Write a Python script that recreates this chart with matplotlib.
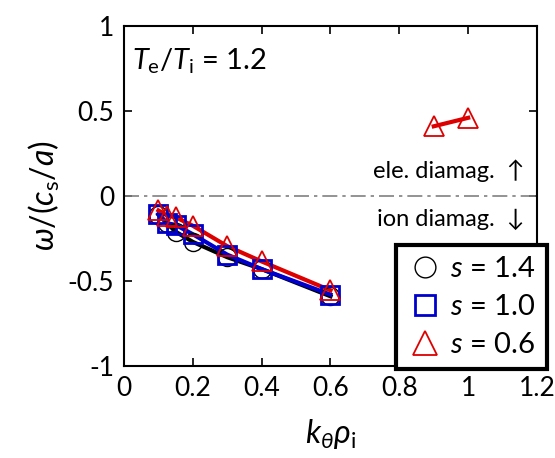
import matplotlib
matplotlib.use('Agg')
import matplotlib.pyplot as plt

plt.rcParams['font.family'] = ['Lato', 'DejaVu Sans']
plt.rcParams['mathtext.fontset'] = 'custom'
plt.rcParams['mathtext.rm'] = 'Lato'
plt.rcParams['mathtext.it'] = 'Lato:italic'

# s = 1.4
x_s14 = [0.1, 0.125, 0.15, 0.2, 0.3, 0.4, 0.6]
y_s14 = [-0.11, -0.16, -0.21, -0.27, -0.36, -0.43, -0.59]
# s = 1.0
x_s10 = [0.1, 0.125, 0.15, 0.2, 0.3, 0.4, 0.6]
y_s10 = [-0.105, -0.16, -0.17, -0.225, -0.345, -0.43, -0.58]
# s = 0.6
x_s06 = [0.1, 0.125, 0.15, 0.2, 0.3, 0.4, 0.6]
y_s06 = [-0.085, -0.115, -0.125, -0.175, -0.295, -0.385, -0.555]
x_s06b = [0.9, 1.0]
y_s06b = [0.41, 0.46]

xticks = [0, 0.2, 0.4, 0.6, 0.8, 1, 1.2]
xticklabels = ['0', '0.2', '0.4', '0.6', '0.8', '1', '1.2']
yticks = [-1, -0.5, 0, 0.5, 1]
yticklabels = ['-1', '-0.5', '0', '0.5', '1']

fig = plt.figure(figsize=(5.55, 4.58), dpi=100)
ax = fig.add_axes([124 / 555, 1 - 366 / 458, 413 / 555, 340 / 458])

ax.axhline(0, color='#808080', lw=1.2, dashes=(9, 3, 2, 3))

ms = 13
ax.plot(x_s14, y_s14, color='black', lw=3, zorder=2)
ax.plot(x_s10, y_s10, color='#0000cc', lw=3, zorder=3)
ax.plot(x_s06, y_s06, color='#dd0000', lw=3, zorder=4)
ax.plot(x_s06b, y_s06b, color='#dd0000', lw=3, zorder=4)

h1, = ax.plot(x_s14, y_s14, ls='none', marker='o', ms=ms, mfc='none', mec='black', mew=1, zorder=5)
h2, = ax.plot(x_s10, y_s10, ls='none', marker='s', ms=ms, mfc='none', mec='#0000cc', mew=2, zorder=6)
h3, = ax.plot(x_s06, y_s06, ls='none', marker='^', ms=ms + 2, mfc='none', mec='#dd0000', mew=1.3, zorder=7)
ax.plot(x_s06b, y_s06b, ls='none', marker='^', ms=ms + 2, mfc='none', mec='#dd0000', mew=1.3, zorder=7)

ax.set_xlim(0, 1.2)
ax.set_ylim(-1, 1)
ax.set_xticks(xticks)
ax.set_xticklabels(xticklabels)
ax.set_yticks(yticks)
ax.set_yticklabels(yticklabels)
ax.tick_params(direction='in', top=True, right=True, length=6, width=1.2,
               labelsize=19, pad=7)
for sp in ax.spines.values():
    sp.set_linewidth(1.5)

ax.set_xlabel(r'$k_{\theta}\rho_\mathrm{i}$', fontsize=23, labelpad=12)
ax.set_ylabel(r'$\omega/(c_\mathrm{s}/a)$', fontsize=23, labelpad=4)

ax.text(0.02, 0.94, r'$T_\mathrm{e}/T_\mathrm{i}$ = 1.2', transform=ax.transAxes,
        fontsize=21, ha='left', va='top')
ax.text(0.97, 0.15, 'ele. diamag.  \u2191', ha='right', va='center', fontsize=17,
        transform=ax.get_yaxis_transform(), family=['Lato', 'DejaVu Sans'])
ax.text(0.97, -0.14, 'ion diamag.  \u2193', ha='right', va='center', fontsize=17,
        transform=ax.get_yaxis_transform(), family=['Lato', 'DejaVu Sans'])

leg = ax.legend([h1, h2, h3], [r'$s$ = 1.4', r'$s$ = 1.0', r'$s$ = 0.6'],
                loc='lower left', bbox_to_anchor=(272 / 413, -0.01),
                fontsize=21, frameon=True, fancybox=False, handletextpad=0.25,
                handlelength=1.2, borderpad=0.4, labelspacing=0.4, borderaxespad=0,
                markerscale=1.15)
leg.get_frame().set_edgecolor('black')
leg.get_frame().set_linewidth(3)
leg.get_frame().set_alpha(1)

fig.savefig('out.png', dpi=100)
